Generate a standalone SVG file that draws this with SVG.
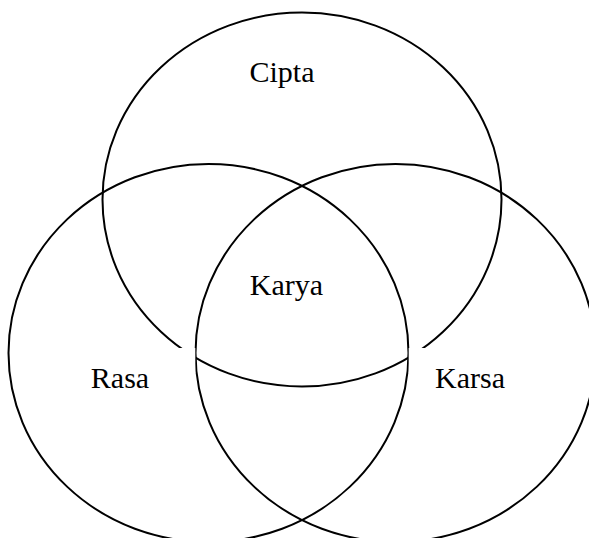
<svg xmlns="http://www.w3.org/2000/svg" width="589" height="538" viewBox="0 0 589 538">
<style>
.c{fill:none;stroke:#000;stroke-width:2}
.t{font-family:"Liberation Serif","Times New Roman",serif;font-size:30px;fill:#000;text-anchor:middle}
.m{fill:#fff;stroke:none}
</style>
<rect width="589" height="538" fill="#fff"/>
<g id="connectors"></g>
<g id="cipta"><ellipse class="c" cx="302" cy="199.5" rx="199.5" ry="187"/></g>
<g id="rasa"><ellipse class="c" cx="208.5" cy="353" rx="200" ry="189"/></g>
<g id="karsa"><ellipse class="c" cx="395.5" cy="353" rx="200" ry="189"/></g>
<rect class="m" x="150" y="348" width="45.3" height="25"/>
<rect class="m" x="408.7" y="348" width="45" height="25"/>
<g id="labels">
<text class="t" x="282" y="82">Cipta</text>
<text class="t" x="286.5" y="294.5">Karya</text>
<text class="t" x="120" y="388">Rasa</text>
<text class="t" x="470" y="388">Karsa</text>
</g>
</svg>
